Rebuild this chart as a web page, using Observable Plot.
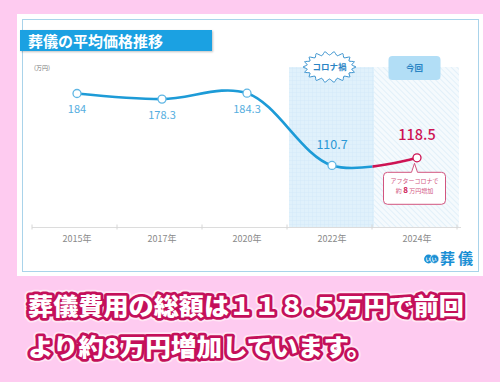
<!DOCTYPE html>
<html><head><meta charset="utf-8">
<script src="https://cdn.jsdelivr.net/npm/d3@7"></script>
<script src="https://cdn.jsdelivr.net/npm/@observablehq/plot@0.6"></script>
<style>
html,body{margin:0;padding:0;}
body{width:500px;height:382px;background:#fecbf0;position:relative;overflow:hidden;font-family:"Noto Sans CJK JP","Noto Sans",sans-serif;}
#card{position:absolute;left:17px;top:14px;width:466px;height:262px;background:#fff;}
#border{position:absolute;left:22px;top:19px;width:457px;height:253px;border:1px solid #a9d3ea;box-sizing:border-box;}
#chart{position:absolute;left:0;top:0;}
#title{position:absolute;left:20px;top:30px;width:192px;height:21px;background:#1ba1e2;box-shadow:1px 1px 2px rgba(0,0,0,.25);color:#fff;font-weight:700;font-size:15px;line-height:21px;padding-left:8px;box-sizing:border-box;white-space:nowrap;}
#unit{position:absolute;left:34px;top:64px;font-size:6px;line-height:8px;color:#777;}
#caption{position:absolute;left:0;top:280px;}
#defs{position:absolute;left:0;top:0;}
</style></head><body>
<svg id="defs" width="0" height="0">
  <defs>
    <pattern id="gridPat" width="4" height="4" patternUnits="userSpaceOnUse">
      <rect width="4" height="4" fill="#e0f1fb"/>
      <path d="M0 0.25H4M0.25 0V4" stroke="#cfe8f6" stroke-width="0.5"/>
    </pattern>
    <pattern id="hatchPat" width="4" height="4" patternUnits="userSpaceOnUse" patternTransform="rotate(45)">
      <rect width="4" height="4" fill="#f5fafd"/>
      <path d="M0 0.5H4" stroke="#e2f0f9" stroke-width="1"/>
    </pattern>
  </defs>
</svg>
<div id="card"></div>
<div id="border"></div>
<div id="chart"></div>
<div id="title">葬儀の平均価格推移</div>
<div id="unit">(万円)</div>
<svg id="caption" width="500" height="100">
  <g font-family="'Noto Sans CJK JP', sans-serif" font-weight="900" font-size="23.5" stroke-linejoin="round" paint-order="stroke">
    <text x="28" y="35" textLength="436" lengthAdjust="spacingAndGlyphs" fill="#fff" stroke="#ffe6f5" stroke-width="9">葬儀費用の総額は１１８.５万円で前回</text>
    <text x="28" y="35" textLength="436" lengthAdjust="spacingAndGlyphs" fill="#fff" stroke="#c4105a" stroke-width="5.5">葬儀費用の総額は１１８.５万円で前回</text>
    <text x="28" y="76" textLength="344" lengthAdjust="spacingAndGlyphs" fill="#fff" stroke="#ffe6f5" stroke-width="9">より約8万円増加しています。</text>
    <text x="28" y="76" textLength="344" lengthAdjust="spacingAndGlyphs" fill="#fff" stroke="#c4105a" stroke-width="5.5">より約8万円増加しています。</text>
  </g>
</svg>
<script>
const years = ["2015年","2017年","2020年","2022年","2024年"];
const prices = [184, 178.3, 184.3, 110.7, 118.5];
const valueLabels = ["184","178.3","184.3","110.7","118.5"];
const coronaYear = "2022年";
const currentYear = "2024年";
const coronaLabel = "コロナ禍";
const currentLabel = "今回";
const calloutLines = ["アフターコロナで", "約 8 万円増加"];
const yDomain = [47.5, 210.5];

const blueC = "#1d9bd7", redC = "#cd1353";
const data = years.map((y, i) => ({year: y, price: prices[i], label: valueLabels[i]}));
const font = "'Noto Sans CJK JP','Noto Sans',sans-serif";

const plot = Plot.plot({
  width: 500, height: 382,
  marginLeft: 32, marginRight: 39, marginTop: 67, marginBottom: 155,
  style: {background: "transparent", fontFamily: font, fontSize: "9px", color: "#8a8a8a", overflow: "visible"},
  x: {type: "band", domain: years, padding: 0, label: null, tickSize: 0, tickPadding: 8},
  y: {domain: yDomain, axis: null},
  marks: [
    Plot.barY([coronaYear], {x: d => d, y1: yDomain[0], y2: yDomain[1], fill: "url(#gridPat)"}),
    Plot.barY([currentYear], {x: d => d, y1: yDomain[0], y2: yDomain[1], fill: "url(#hatchPat)"}),
    Plot.ruleY([yDomain[0]], {stroke: "#dcdcdc", strokeWidth: 1}),
    Plot.line(data, {x: "year", y: "price", curve: "catmull-rom", stroke: blueC, strokeWidth: 2.6, ariaDescription: "blue-line"}),
    Plot.line(data, {x: "year", y: "price", curve: "catmull-rom", stroke: redC, strokeWidth: 2.6, ariaDescription: "red-line"}),
    Plot.dot(data.slice(0, 4), {x: "year", y: "price", r: 4, fill: "white", stroke: "#5fb6e4", strokeWidth: 1.3}),
    Plot.dot(data.slice(4), {x: "year", y: "price", r: 4, fill: "white", stroke: redC, strokeWidth: 1.3}),
    Plot.text(data.slice(0, 3), {x: "year", y: "price", text: "label", dy: 16, fill: "#55aee0", fontSize: 11}),
    Plot.text(data.slice(3, 4), {x: "year", y: "price", text: "label", dy: -20, fill: "#2a98d6", fontSize: 12.5}),
    Plot.text(data.slice(4), {x: "year", y: "price", text: "label", dy: -22, fill: redC, fontSize: 14.5, fontWeight: 500})
  ]
});
document.getElementById("chart").appendChild(plot);

// scales
const xs = plot.scale("x"), ys = plot.scale("y");
const bw = xs.bandwidth;
const x0 = xs.range[0];
const cx = k => x0 + years.indexOf(k) * bw + bw / 2;
const yv = v => ys.range[0] + (v - ys.domain[0]) / (ys.domain[1] - ys.domain[0]) * (ys.range[1] - ys.range[0]);

const svg = d3.select(plot);
const defs = svg.append("defs");
const splitX = cx(coronaYear);
defs.append("clipPath").attr("id", "clipBlue").append("rect").attr("x", 0).attr("y", 0).attr("width", splitX).attr("height", 382);
defs.append("clipPath").attr("id", "clipRed").append("rect").attr("x", splitX).attr("y", 0).attr("width", 500 - splitX).attr("height", 382);
svg.select('g[aria-description="blue-line"]').attr("clip-path", "url(#clipBlue)");
svg.select('g[aria-description="red-line"]').attr("clip-path", "url(#clipRed)");

const ov = svg.append("g");
const yBase = yv(yDomain[0]), yTop = yv(yDomain[1]);
// boundary ticks
for (let k = 0; k <= years.length; k++) {
  const xx = x0 + k * bw;
  ov.append("line").attr("x1", xx).attr("x2", xx).attr("y1", yBase - 2.5).attr("y2", yBase + 2.5).attr("stroke", "#d6d6d6");
}
// starburst badge
{
  const c = cx(coronaYear), cy = yTop;
  const n = 18, pts = [];
  for (let k = 0; k < 2 * n; k++) {
    const a = k * Math.PI / n;
    const rx = k % 2 ? 22.5 : 26.5, ry = k % 2 ? 12 : 15.5;
    pts.push([c + rx * Math.cos(a), cy + ry * Math.sin(a)]);
  }
  ov.append("path").attr("d", d3.line().curve(d3.curveCardinalClosed.tension(0.3))(pts))
    .attr("fill", "#fff").attr("stroke", "#3a93cf").attr("stroke-width", 1);
  ov.append("text").attr("x", c).attr("y", cy).attr("dy", "0.35em").attr("text-anchor", "middle")
    .attr("font-size", 8.5).attr("font-weight", 700).attr("fill", "#2a84c4").text(coronaLabel);
}
// current badge
{
  const c = cx(currentYear);
  ov.append("rect").attr("x", c - 26).attr("y", yTop - 11).attr("width", 52).attr("height", 24).attr("rx", 4)
    .attr("fill", "#b2def6");
  ov.append("text").attr("x", c).attr("y", yTop + 1).attr("dy", "0.35em").attr("text-anchor", "middle")
    .attr("font-size", 8.5).attr("font-weight", 700).attr("fill", "#2a84c4").text(currentLabel);
}
// callout
{
  const px = cx(currentYear), py = yv(prices[4]);
  const l = px - 31, r = px + 31, t = py + 15, b = py + 47, rr = 4;
  const d = `M${l + rr},${t} H${px - 3} L${px},${py + 6} L${px + 3},${t} H${r - rr} Q${r},${t} ${r},${t + rr} V${b - rr} Q${r},${b} ${r - rr},${b} H${l + rr} Q${l},${b} ${l},${b - rr} V${t + rr} Q${l},${t} ${l + rr},${t} Z`;
  ov.append("path").attr("d", d).attr("fill", "#fff").attr("stroke", "#d2557f").attr("stroke-width", 1);
  ov.append("text").attr("x", px).attr("y", t + 11).attr("text-anchor", "middle").attr("font-size", 6).attr("fill", "#d2557f").text(calloutLines[0]);
  const t2 = ov.append("text").attr("x", px).attr("y", t + 21).attr("text-anchor", "middle").attr("font-size", 6).attr("fill", "#d2557f");
  t2.append("tspan").text("約 ");
  t2.append("tspan").attr("font-size", 8).attr("font-weight", 700).attr("fill", redC).text("8");
  t2.append("tspan").text(" 万円増加");
}
// logo
{
  const g = ov.append("g");
  g.append("circle").attr("cx", 428.5).attr("cy", 259).attr("r", 4.4).attr("fill", "#1a8fd4");
  g.append("circle").attr("cx", 434.5).attr("cy", 259).attr("r", 4.4).attr("fill", "#1a8fd4").attr("stroke", "#fff").attr("stroke-width", 0.6);
  g.append("text").attr("x", 431.5).attr("y", 259).attr("dy", "0.35em").attr("text-anchor", "middle").attr("font-size", 5).attr("letter-spacing", 1).attr("font-weight", 700).attr("fill", "#fff").text("いい");
  g.append("text").attr("x", 440).attr("y", 259).attr("dy", "0.36em").attr("text-anchor", "start").attr("font-size", 15).attr("textLength", 33).attr("font-weight", 700).attr("fill", "#1a8fd4").text("葬儀");
}
</script>
</body></html>
